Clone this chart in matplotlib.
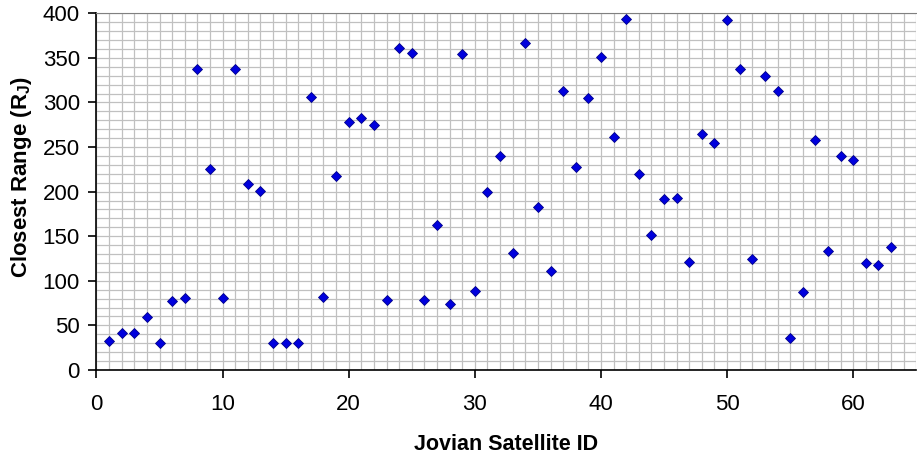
import matplotlib
matplotlib.use("agg")
import matplotlib.pyplot as plt
import numpy as np

# closest approach for each satellite, in Jupiter radii
sat_id = list(range(1, 64))
closest_range = [32, 42, 42, 59, 30, 77, 81, 337, 225, 81,
                 338, 208, 201, 30, 30, 30, 306, 82, 217, 278,
                 283, 275, 78, 361, 355, 79, 163, 74, 354, 88,
                 200, 240, 131, 367, 183, 111, 313, 228, 305, 351,
                 261, 394, 220, 151, 192, 193, 121, 265, 255, 392,
                 337, 124, 330, 313, 36, 87, 258, 133, 240, 235,
                 120, 118, 138]

plt.rcParams['font.family'] = ['Liberation Sans', 'DejaVu Sans']
plt.rcParams['mathtext.fontset'] = 'custom'
plt.rcParams['mathtext.rm'] = 'Liberation Sans'
plt.rcParams['mathtext.bf'] = 'Liberation Sans:bold'

fig = plt.figure(figsize=(9.17, 4.59), dpi=100)
ax = fig.add_axes([0.1052, 0.194, 0.894, 0.777])

ax.plot(sat_id, closest_range, linestyle='none', marker='D', markersize=4.7,
        markerfacecolor='#0000dd', markeredgecolor='#00008b', markeredgewidth=0.6,
        zorder=3)

ax.set_xlim(0, 65)
ax.set_ylim(0, 400)
ax.set_xticks(np.arange(0, 61, 10))
ax.set_yticks(np.arange(0, 401, 50))
ax.set_xticks(np.arange(0, 66, 1), minor=True)
ax.set_yticks(np.arange(0, 401, 10), minor=True)
ax.tick_params(which='minor', length=0)
ax.tick_params(which='major', direction='out', length=6, width=1.2,
               labelsize=16, colors='black')
ax.tick_params(axis='x', pad=11)
ax.tick_params(axis='y', pad=6)

ax.grid(True, which='both', color='#c0c0c0', linewidth=0.9)
ax.set_axisbelow(True)

ax.spines['right'].set_visible(False)
ax.spines['top'].set_color('#808080')
ax.spines['left'].set_linewidth(1.2)
ax.spines['bottom'].set_linewidth(1.2)

ax.set_xlabel('Jovian Satellite ID', fontsize=15.5, fontweight='bold', labelpad=14)
ax.set_ylabel(r'Closest Range (R$_\mathbf{J}$)', fontsize=16, fontweight='bold',
              labelpad=6, y=0.54)

fig.savefig('out.png', dpi=100)
